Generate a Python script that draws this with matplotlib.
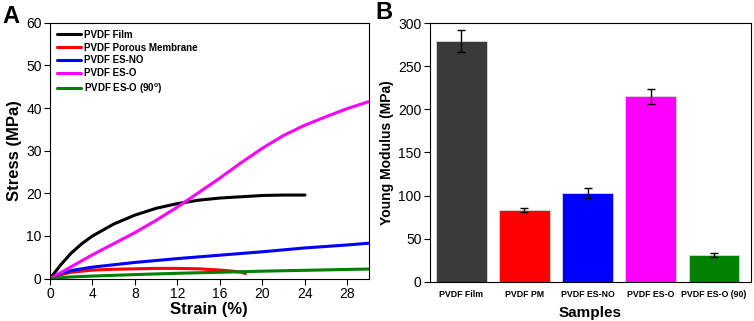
import numpy as np
import matplotlib
matplotlib.use("Agg")
import matplotlib.pyplot as plt

plt.rcParams['font.family'] = ['Liberation Sans', 'DejaVu Sans']

# ---- panel A: stress-strain curves
film_x = [0, 1, 2, 3, 4, 6, 8, 10, 12, 14, 16, 18, 20, 22, 24]
film_y = [0, 3.2, 6.0, 8.2, 10.0, 12.8, 14.9, 16.5, 17.6, 18.4, 18.9, 19.2, 19.5, 19.6, 19.6]
pm_x = [0, 1, 2, 4, 6, 8, 10, 12, 14, 16, 17, 18, 18.4]
pm_y = [0, 0.9, 1.5, 2.0, 2.2, 2.3, 2.4, 2.4, 2.3, 2.0, 1.8, 1.5, 1.2]
esno_x = [0, 1, 2, 4, 8, 12, 16, 20, 24, 28, 30]
esno_y = [0, 1.2, 1.9, 2.7, 3.8, 4.7, 5.5, 6.3, 7.2, 7.9, 8.3]
eso_x = [0, 2, 4, 6, 8, 10, 12, 14, 16, 18, 20, 22, 24, 26, 28, 30]
eso_y = [0, 2.8, 5.6, 8.2, 10.8, 13.7, 16.8, 20.2, 23.6, 27.2, 30.6, 33.6, 36.0, 38.0, 39.9, 41.5]
eso90_x = [0, 2, 4, 8, 12, 16, 20, 24, 28, 30]
eso90_y = [0, 0.4, 0.6, 0.95, 1.25, 1.5, 1.75, 1.95, 2.15, 2.25]

curve_labels = ["PVDF Film", "PVDF Porous Membrane", "PVDF ES-NO", "PVDF ES-O",
                r"PVDF ES-O (90$^{\mathregular{o}}$)"]
curve_colors = ["black", "red", "blue", "magenta", "green"]

# ---- panel B: Young's modulus
samples = ["PVDF Film", "PVDF PM", "PVDF ES-NO", "PVDF ES-O", "PVDF ES-O (90)"]
modulus = [279, 83, 103, 215, 31]
modulus_err = [13, 2.5, 5.5, 8.5, 2.5]
bar_colors = ["#3a3a3a", "red", "blue", "magenta", "green"]

fig = plt.figure(figsize=(7.54, 3.21), dpi=100)

ax1 = fig.add_axes([0.0663, 0.132, 0.4227, 0.797])
curves = [(film_x, film_y), (pm_x, pm_y), (esno_x, esno_y), (eso_x, eso_y), (eso90_x, eso90_y)]
for (cx, cy), lab, col in zip(curves, curve_labels, curve_colors):
    ax1.plot(cx, cy, color=col, lw=2.2, label=lab, solid_capstyle='round')
ax1.set_xlim(0, 30)
ax1.set_ylim(0, 60)
ax1.set_xticks(np.arange(0, 30, 4))
ax1.set_yticks(np.arange(0, 61, 10))
ax1.set_xlabel("Strain (%)", fontsize=12, fontweight='bold', labelpad=1)
ax1.set_ylabel("Stress (MPa)", fontsize=12, fontweight='bold', labelpad=3)
ax1.tick_params(labelsize=10, direction='out', length=4, width=0.8, pad=2)
leg = ax1.legend(loc='upper left', frameon=False, handlelength=2.5,
                 labelspacing=0.3, handletextpad=0.3, borderaxespad=0.3,
                 prop={'weight': 'bold', 'size': 7})

ax2 = fig.add_axes([0.570, 0.122, 0.426, 0.806])
xpos = np.arange(len(samples))
ax2.bar(xpos, modulus, width=0.8, color=bar_colors, edgecolor='#d8d8d8', linewidth=0.6,
        yerr=modulus_err, capsize=3, error_kw={'elinewidth': 1, 'capthick': 1})
ax2.set_xlim(-0.5, 4.59)
ax2.set_ylim(0, 300)
ax2.set_xticks(xpos)
ax2.set_xticklabels(samples, fontsize=6.3, fontweight='bold')
ax2.set_yticks(np.arange(0, 301, 50))
ax2.tick_params(axis='x', length=0, pad=6)
ax2.tick_params(axis='y', labelsize=10, direction='out', length=4, width=0.8, pad=2)
ax2.set_xlabel("Samples", fontsize=11, fontweight='bold', labelpad=5)
ax2.set_ylabel("Young Modulus (MPa)", fontsize=10, fontweight='bold', labelpad=3)

fig.text(0.003, 0.985, "A", fontsize=17, fontweight='bold', va='top', ha='left')
fig.text(0.498, 0.998, "B", fontsize=17, fontweight='bold', va='top', ha='left')

fig.savefig("out.png", dpi=100)
